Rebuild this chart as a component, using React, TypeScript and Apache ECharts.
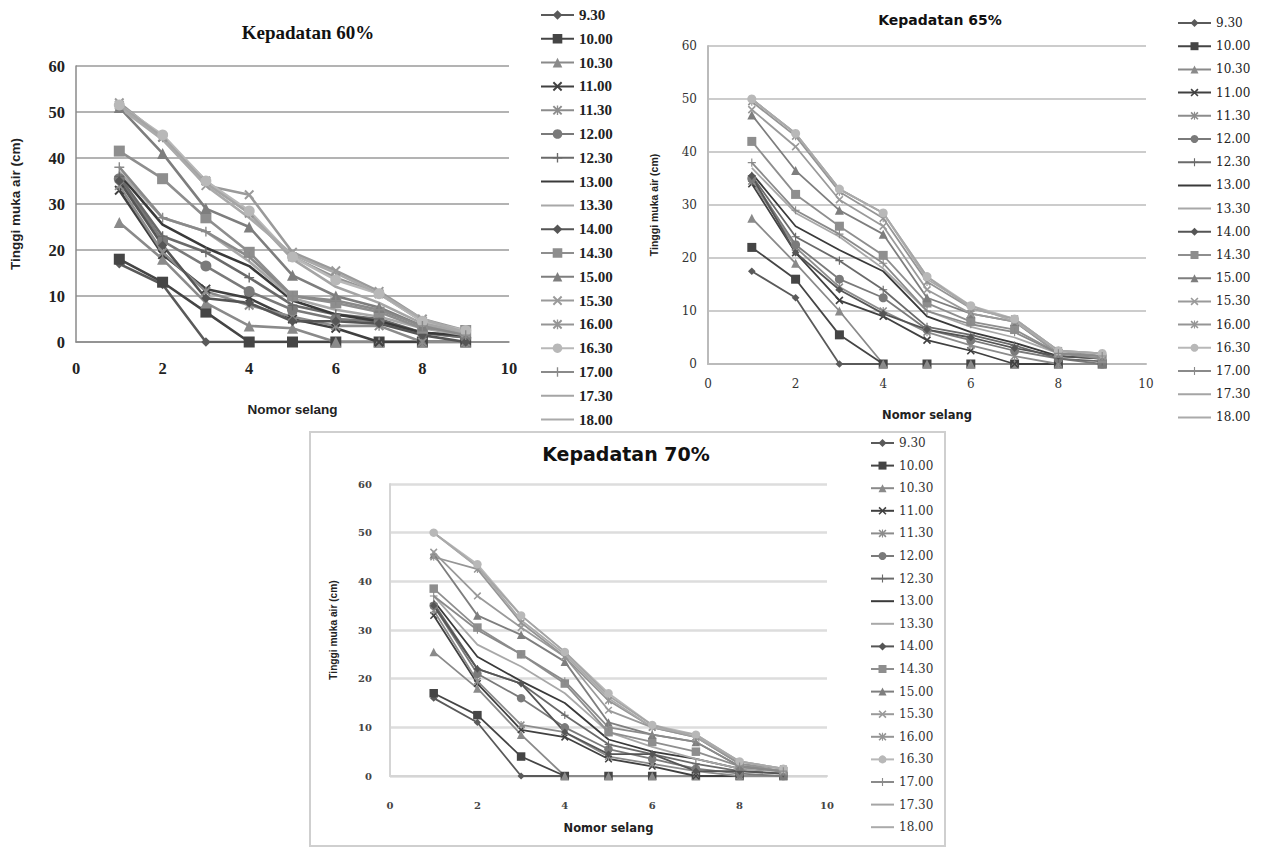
import React, { useEffect, useRef } from "react";
import * as echarts from "echarts";

// ---------- DATA ----------
const nomorSelang = [1, 2, 3, 4, 5, 6, 7, 8, 9];
const waktu = [
  "9.30", "10.00", "10.30", "11.00", "11.30", "12.00", "12.30", "13.00", "13.30",
  "14.00", "14.30", "15.00", "15.30", "16.00", "16.30", "17.00", "17.30", "18.00",
];
const xTicks = [0, 2, 4, 6, 8, 10];
const yTicks = [0, 10, 20, 30, 40, 50, 60];

// Kepadatan 60%
const tinggi60 = [
  [17, 12.5, 0, 0, 0, 0, 0, 0, 0],
  [18, 13, 6.5, 0, 0, 0, 0, 0, 0],
  [26, 18, 8.5, 3.5, 3, 0, 0, 0, 0],
  [33, 19, 11.5, 9.5, 5, 3, 0, 0, 0],
  [34, 19.5, 11, 8, 5.5, 3.5, 3.5, 0, 0],
  [35.5, 22, 16.5, 11, 7, 5, 4.5, 2, 1],
  [36, 23, 19.5, 14, 8, 6, 5, 2, 1],
  [36.5, 25.5, 20.5, 16.5, 9, 6, 4.5, 2, 1.5],
  [37, 27, 24, 17.5, 9.5, 7, 5.5, 3, 1.5],
  [35, 21, 9.5, 8.5, 4.5, 4.5, 4, 1.5, 0],
  [41.5, 35.5, 27, 19.5, 10, 8.5, 6.5, 3, 2.5],
  [51, 41, 29, 25, 14.5, 10, 7.5, 3.5, 2],
  [52, 44.5, 34, 32, 19.5, 15.5, 11, 5, 2.5],
  [51.5, 44.5, 35, 28, 18.5, 14, 10.5, 4.5, 2],
  [51.5, 45, 35, 28.5, 18.5, 13.5, 10.5, 4.5, 2.5],
  [38, 27, 24, 18.5, 10, 9, 7, 3.5, 1.5],
  [51.5, 44.5, 34.5, 28, 18, 12, 8.5, 4, 2],
  [51, 44, 34, 27, 19, 15, 10.5, 5, 2],
];

// Kepadatan 65%
const tinggi65 = [
  [17.5, 12.5, 0, 0, 0, 0, 0, 0, 0],
  [22, 16, 5.5, 0, 0, 0, 0, 0, 0],
  [27.5, 19, 10, 0, 0, 0, 0, 0, 0],
  [34, 21, 12, 9, 4.5, 2.5, 0, 0, 0],
  [34.5, 22, 14.5, 10, 6, 3.5, 1.5, 0, 0],
  [35, 22.5, 16, 12.5, 6.5, 4.5, 2.5, 1, 0],
  [35.5, 24, 19.5, 14, 7, 5.5, 3.5, 1, 0.5],
  [36, 26, 21.5, 17.5, 9, 6, 4, 1.5, 1],
  [37, 28.5, 24, 18, 10, 7, 5, 2, 1],
  [35.5, 21, 14, 9.5, 6.5, 5, 3, 1.5, 1],
  [42, 32, 26, 20.5, 11.5, 8, 6.5, 2, 1],
  [47, 36.5, 29, 24.5, 12.5, 9.5, 8, 2, 1.5],
  [48, 41, 31, 26, 14, 9.5, 8, 2, 1.5],
  [49.5, 43, 32.5, 27.5, 15.5, 10.5, 8.5, 2.5, 1.5],
  [50, 43.5, 33, 28.5, 16.5, 11, 8.5, 2.5, 2],
  [38, 29, 24.5, 19, 10, 7.5, 6, 2, 1.5],
  [50, 43.5, 33, 28.5, 16.5, 10.5, 8.5, 2.5, 2],
  [50, 43.5, 33, 28.5, 16, 11, 8, 2.5, 2],
];

// Kepadatan 70%
const tinggi70 = [
  [16, 11, 0, 0, 0, 0, 0, 0, 0],
  [17, 12.5, 4, 0, 0, 0, 0, 0, 0],
  [25.5, 18, 8.5, 0, 0, 0, 0, 0, 0],
  [33, 19, 9.5, 8, 3.5, 2, 0, 0, 0],
  [34, 19.5, 10.5, 9, 4, 2.5, 1, 0, 0],
  [35, 21, 16, 10, 5.5, 3.5, 1.5, 0.5, 0],
  [35.5, 22, 19, 12.5, 6.5, 4.5, 2.5, 1, 0.5],
  [36, 24.5, 19.5, 15, 7.5, 5, 3.5, 1.5, 1],
  [37, 27, 22.5, 17, 9, 6, 3.5, 1.5, 1],
  [35, 22, 19, 9, 4.5, 4.5, 1, 1, 0.5],
  [38.5, 30.5, 25, 19, 9, 7, 5, 2, 1],
  [45.5, 33, 29, 23.5, 11, 8.5, 7, 2, 1],
  [46, 37, 30.5, 24.5, 13.5, 10, 8, 2.5, 1],
  [45, 42.5, 31.5, 24.5, 15.5, 10, 8, 2.5, 1.5],
  [50, 43.5, 33, 25.5, 17, 10.5, 8.5, 3, 1.5],
  [37, 30, 25, 19.5, 10, 8.5, 7, 2, 1],
  [50, 43, 33, 25.5, 16.5, 10.5, 8, 3, 1.5],
  [50, 43, 32, 25, 16, 10, 8.5, 3, 1.5],
];

// ---------- STYLES ----------
const SYM_X = "path://M0,1.4L1.4,0L10,8.6L8.6,10Z M8.6,0L10,1.4L1.4,10L0,8.6Z";
const SYM_STAR = "path://M0,1.4L1.4,0L10,8.6L8.6,10Z M8.6,0L10,1.4L1.4,10L0,8.6Z M4.3,0H5.7V10H4.3Z";
const SYM_PLUS = "path://M4.3,0H5.7V10H4.3Z M0,4.3H10V5.7H0Z";
// two microscopic dots at opposite corners: square bounds, practically invisible (line-only series)
const SYM_NONE = "path://M0,0H0.005V0.005H0Z M9.995,9.995H10V10H9.995Z";

const warna = [
  "#5a5a5a", "#454545", "#8a8a8a", "#404040", "#8c8c8c", "#7a7a7a", "#6a6a6a", "#3a3a3a", "#a8a8a8",
  "#555555", "#8e8e8e", "#7e7e7e", "#9a9a9a", "#959595", "#b8b8b8", "#8a8a8a", "#a5a5a5", "#aaaaaa",
];
const simbol = [
  "diamond", "rect", "triangle", SYM_X, SYM_STAR, "circle", SYM_PLUS, SYM_NONE, SYM_NONE,
  "diamond", "rect", "triangle", SYM_X, SYM_STAR, "circle", SYM_PLUS, SYM_NONE, SYM_NONE,
];
const skala = [0.85, 1, 1, 0.9, 0.9, 1, 0.9, 1, 1, 0.85, 1, 1, 0.9, 0.9, 1, 0.9, 1, 1];

type Layout = {
  title: string;
  titleX: number; titleY: number; titleFont: string; titleSize: number;
  grid: { left: number; top: number; width: number; height: number };
  tickFont: string; tickSize: number; tickColor: string; tickWeight: string;
  yLabelMargin: number; xLabelMargin: number;
  nameFont: string; nameSize: number; xNameGap: number; yNameGap: number; yNameSize: number; yNameFont: string;
  gridColor: string; gridWidth: number; axisColor: string; axisWidth: number;
  lineWidth: number; symbolSize: number;
  legendLeft: number; legendTop: number; legendItemW: number; legendItemH: number; legendGap: number;
  legendFont: string; legendSize: number; legendWeight: string; legendColor: string;
};

const layoutA: Layout = {
  title: "Kepadatan 60%",
  titleX: 308, titleY: 32, titleFont: "Liberation Serif", titleSize: 19,
  grid: { left: 69, top: 66, width: 440, height: 276 },
  tickFont: "Liberation Serif", tickSize: 16.5, tickColor: "#222", tickWeight: "bold",
  yLabelMargin: 11, xLabelMargin: 18,
  nameFont: "Liberation Sans", nameSize: 13.5, xNameGap: 60, yNameGap: 54, yNameSize: 13.5, yNameFont: "Liberation Sans",
  gridColor: "#9a9a9a", gridWidth: 1.5, axisColor: "#8a8a8a", axisWidth: 1.5,
  lineWidth: 2.6, symbolSize: 11,
  legendLeft: 540, legendTop: 7.5, legendItemW: 33, legendItemH: 12, legendGap: 8.8,
  legendFont: "Liberation Serif", legendSize: 15, legendWeight: "bold", legendColor: "#222",
};

const layoutB: Layout = {
  title: "Kepadatan 65%",
  titleX: 300, titleY: 20, titleFont: "DejaVu Sans", titleSize: 14,
  grid: { left: 61, top: 46, width: 445, height: 318 },
  tickFont: "DejaVu Serif", tickSize: 12, tickColor: "#333", tickWeight: "normal",
  yLabelMargin: 11, xLabelMargin: 14,
  nameFont: "DejaVu Sans", nameSize: 11.5, xNameGap: 45, yNameGap: 49, yNameSize: 10.5, yNameFont: "Liberation Sans",
  gridColor: "#cccccc", gridWidth: 2, axisColor: "#bbbbbb", axisWidth: 2,
  lineWidth: 1.8, symbolSize: 9,
  legendLeft: 537, legendTop: 17, legendItemW: 33, legendItemH: 10, legendGap: 11.2,
  legendFont: "DejaVu Serif", legendSize: 12, legendWeight: "normal", legendColor: "#222",
};

const layoutC: Layout = {
  title: "Kepadatan 70%",
  titleX: 316, titleY: 22, titleFont: "DejaVu Sans", titleSize: 19,
  grid: { left: 80, top: 52, width: 437, height: 292 },
  tickFont: "DejaVu Serif", tickSize: 10, tickColor: "#444", tickWeight: "bold",
  yLabelMargin: 18, xLabelMargin: 24,
  nameFont: "DejaVu Sans", nameSize: 11.5, xNameGap: 46, yNameGap: 52, yNameSize: 10.2, yNameFont: "Liberation Sans",
  gridColor: "#dddddd", gridWidth: 2.5, axisColor: "#d5d5d5", axisWidth: 2,
  lineWidth: 1.8, symbolSize: 8.5,
  legendLeft: 560, legendTop: 5, legendItemW: 23, legendItemH: 10, legendGap: 10.6,
  legendFont: "DejaVu Serif", legendSize: 12, legendWeight: "normal", legendColor: "#333",
};

function buildOption(values: number[][], L: Layout) {
  const series = waktu.map((name, i) => ({
    name,
    type: "line",
    data: nomorSelang.map((n, j) => [n, values[i][j]]),
    symbol: simbol[i],
    symbolSize: L.symbolSize * skala[i],
    showSymbol: simbol[i] !== SYM_NONE,
    lineStyle: { color: warna[i], width: L.lineWidth },
    itemStyle: { color: warna[i], borderWidth: 0 },
    emphasis: { disabled: true },
  }));
  return {
    animation: false,
    backgroundColor: "transparent",
    grid: { ...L.grid, containLabel: false },
    graphic: [
      {
        type: "text",
        x: L.titleX,
        y: L.titleY,
        style: {
          text: L.title,
          font: `bold ${L.titleSize}px "${L.titleFont}"`,
          fill: "#111",
          textAlign: "center",
          textVerticalAlign: "middle",
        },
      },
    ],
    xAxis: {
      type: "value",
      min: xTicks[0],
      max: xTicks[xTicks.length - 1],
      interval: xTicks[1] - xTicks[0],
      name: "Nomor selang",
      nameLocation: "middle",
      nameGap: L.xNameGap,
      nameTextStyle: { fontFamily: L.nameFont, fontSize: L.nameSize, fontWeight: "bold", color: "#222" },
      axisLine: { show: true, lineStyle: { color: L.axisColor, width: L.axisWidth } },
      axisTick: { show: false },
      splitLine: { show: false },
      axisLabel: {
        margin: L.xLabelMargin,
        fontFamily: L.tickFont,
        fontSize: L.tickSize,
        fontWeight: L.tickWeight,
        color: L.tickColor,
      },
    },
    yAxis: {
      type: "value",
      min: yTicks[0],
      max: yTicks[yTicks.length - 1],
      interval: yTicks[1] - yTicks[0],
      name: "Tinggi muka air (cm)",
      nameLocation: "middle",
      nameGap: L.yNameGap,
      nameTextStyle: { fontFamily: L.yNameFont, fontSize: L.yNameSize, fontWeight: "bold", color: "#222" },
      axisLine: { show: true, lineStyle: { color: L.axisColor, width: L.axisWidth } },
      axisTick: { show: false },
      splitLine: { show: true, lineStyle: { color: L.gridColor, width: L.gridWidth } },
      axisLabel: {
        margin: L.yLabelMargin,
        fontFamily: L.tickFont,
        fontSize: L.tickSize,
        fontWeight: L.tickWeight,
        color: L.tickColor,
      },
    },
    legend: {
      orient: "vertical",
      left: L.legendLeft,
      top: L.legendTop,
      padding: 0,
      itemWidth: L.legendItemW,
      itemHeight: L.legendItemH,
      itemGap: L.legendGap,
      selectedMode: false,
      data: waktu,
      textStyle: {
        fontFamily: L.legendFont,
        fontSize: L.legendSize,
        fontWeight: L.legendWeight,
        color: L.legendColor,
      },
    },
    series,
  };
}

function Panel(props: { option: any; style: React.CSSProperties }) {
  const ref = useRef<HTMLDivElement>(null);
  useEffect(() => {
    if (!ref.current) return;
    const chart = echarts.init(ref.current, null, { renderer: "svg" });
    chart.setOption(props.option);
    return () => chart.dispose();
  }, []);
  return <div ref={ref} style={props.style} />;
}

export default function App() {
  return (
    <div style={{ position: "absolute", left: 0, top: 0, width: 1261, height: 862, background: "#fff", overflow: "hidden" }}>
      <Panel option={buildOption(tinggi60, layoutA)} style={{ position: "absolute", left: 0, top: 0, width: 640, height: 445 }} />
      <Panel option={buildOption(tinggi65, layoutB)} style={{ position: "absolute", left: 640, top: 0, width: 621, height: 445 }} />
      <Panel option={buildOption(tinggi70, layoutC)} style={{ position: "absolute", left: 310, top: 432, width: 636, height: 416 }} />
      <div
        style={{
          position: "absolute", left: 309, top: 431, width: 637, height: 416,
          border: "2px solid #cfcfcf", boxSizing: "border-box", pointerEvents: "none",
        }}
      />
    </div>
  );
}
